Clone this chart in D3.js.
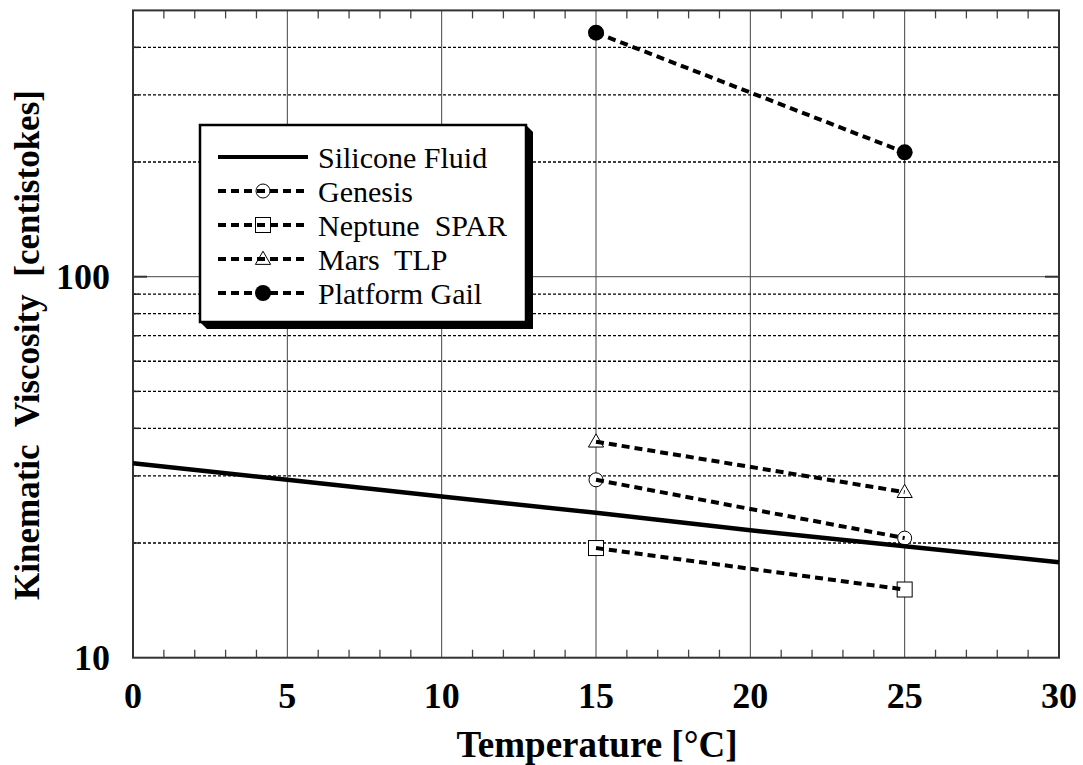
<!DOCTYPE html>
<html>
<head>
<meta charset="utf-8">
<script src="https://cdn.jsdelivr.net/npm/d3@7"></script>
<style>
  html, body { margin: 0; padding: 0; background: #fff; }
  svg { display: block; }
</style>
</head>
<body>
<svg id="chart" width="1083" height="765"></svg>
<script>
// Temperature axis
const xTicks = [0, 5, 10, 15, 20, 25, 30];
const yTickLabels = [10, 100];
const yGridDotted = [20, 30, 40, 50, 60, 70, 80, 90, 200, 300, 400];

// Silicone fluid reference curve
const siliconeTemps = [0, 5, 10, 15, 20, 25, 30];
const siliconeVisc = [32.4, 29.3, 26.5, 24.0, 21.6, 19.6, 17.8];

// Crude samples measured at 15 and 25 °C
const sampleTemps = [15, 25];
const genesisVisc = [29.3, 20.6];
const neptuneVisc = [19.4, 15.1];
const marsVisc = [36.9, 27.2];
const gailVisc = [437, 212];

const seriesNames = ["Silicone Fluid", "Genesis", "Neptune  SPAR", "Mars  TLP", "Platform Gail"];

const svg = d3.select("#chart");
const plotLeft = 133, plotRight = 1059, plotTop = 10.4, plotBottom = 657.7;

const x = d3.scaleLinear().domain([0, 30]).range([plotLeft, plotRight]);
const y = d3.scaleLog().domain([10, 500]).range([plotBottom, plotTop]);

const serif = "'Liberation Serif', 'Times New Roman', serif";

// Grid: vertical solid lines
svg.append("g").selectAll("line").data(xTicks.filter(d => d > 0 && d < 30)).join("line")
  .attr("x1", d => x(d)).attr("x2", d => x(d))
  .attr("y1", plotTop).attr("y2", plotBottom)
  .attr("stroke", "#444").attr("stroke-width", 1);

// Grid: horizontal dotted lines
svg.append("g").selectAll("line").data(yGridDotted).join("line")
  .attr("x1", plotLeft).attr("x2", plotRight)
  .attr("y1", d => y(d)).attr("y2", d => y(d))
  .attr("stroke", "#000").attr("stroke-width", 1.3)
  .attr("stroke-dasharray", "3,2");

// Grid: solid decade line
svg.append("line")
  .attr("x1", plotLeft).attr("x2", plotRight)
  .attr("y1", y(100)).attr("y2", y(100))
  .attr("stroke", "#444").attr("stroke-width", 1);

// Minor x ticks on bottom and top, pointing inward
const xMinor = d3.range(1, 30).filter(d => d % 5 !== 0);
svg.append("g").selectAll("line").data(xMinor).join("line")
  .attr("x1", d => x(d)).attr("x2", d => x(d))
  .attr("y1", plotBottom).attr("y2", plotBottom - 8)
  .attr("stroke", "#444").attr("stroke-width", 1.3);
svg.append("g").selectAll("line").data(xMinor).join("line")
  .attr("x1", d => x(d)).attr("x2", d => x(d))
  .attr("y1", plotTop).attr("y2", plotTop + 8)
  .attr("stroke", "#444").attr("stroke-width", 1.3);

// Y ticks on both sides
svg.append("g").selectAll("line").data(yGridDotted).join("line")
  .attr("x1", plotLeft).attr("x2", plotLeft + 6)
  .attr("y1", d => y(d)).attr("y2", d => y(d))
  .attr("stroke", "#222").attr("stroke-width", 1.5);
svg.append("g").selectAll("line").data(yGridDotted).join("line")
  .attr("x1", plotRight).attr("x2", plotRight - 6)
  .attr("y1", d => y(d)).attr("y2", d => y(d))
  .attr("stroke", "#222").attr("stroke-width", 1.5);
[plotLeft, plotRight].forEach(xe => {
  svg.append("line")
    .attr("x1", xe).attr("x2", xe === plotLeft ? xe + 14 : xe - 14)
    .attr("y1", y(100)).attr("y2", y(100))
    .attr("stroke", "#333").attr("stroke-width", 2);
});

// Plot frame
svg.append("rect")
  .attr("x", plotLeft).attr("y", plotTop)
  .attr("width", plotRight - plotLeft).attr("height", plotBottom - plotTop)
  .attr("fill", "none").attr("stroke", "#333").attr("stroke-width", 2);

// Axis tick labels
svg.append("g").selectAll("text").data(xTicks).join("text")
  .attr("x", d => x(d)).attr("y", 708)
  .attr("text-anchor", "middle")
  .attr("font-family", serif).attr("font-weight", "bold").attr("font-size", 36)
  .text(d => d);
svg.append("g").selectAll("text").data(yTickLabels).join("text")
  .attr("x", 110).attr("y", d => y(d) + 12)
  .attr("text-anchor", "end")
  .attr("font-family", serif).attr("font-weight", "bold").attr("font-size", 36)
  .text(d => d);

// Axis titles
svg.append("text")
  .attr("x", 597).attr("y", 757)
  .attr("text-anchor", "middle")
  .attr("font-family", serif).attr("font-weight", "bold").attr("font-size", 37)
  .text("Temperature [°C]");
svg.append("text")
  .attr("transform", "translate(39,345) rotate(-90)")
  .attr("text-anchor", "middle")
  .attr("font-family", serif).attr("font-weight", "bold").attr("font-size", 35)
  .attr("word-spacing", 9)
  .text("Kinematic Viscosity [centistokes]");

// Series
const lineGen = d3.line().x(d => x(d[0])).y(d => y(d[1]));
const dash = "8,5";

// Markers
function drawMarker(g, type, cx, cy) {
  if (type === "circle") {
    g.append("circle").attr("cx", cx).attr("cy", cy).attr("r", 7)
      .attr("fill", "#fff").attr("stroke", "#000").attr("stroke-width", 1);
  } else if (type === "square") {
    g.append("rect").attr("x", cx - 7.5).attr("y", cy - 7.5).attr("width", 15).attr("height", 15)
      .attr("fill", "#fff").attr("stroke", "#000").attr("stroke-width", 1);
  } else if (type === "triangle") {
    g.append("path").attr("d", d3.symbol().type(d3.symbolTriangle).size(100)())
      .attr("transform", `translate(${cx},${cy + 1})`)
      .attr("fill", "#fff").attr("stroke", "#000").attr("stroke-width", 1);
  } else if (type === "filled") {
    g.append("circle").attr("cx", cx).attr("cy", cy).attr("r", 8)
      .attr("fill", "#000");
  }
}

const samples = [
  { vals: genesisVisc, marker: "circle" },
  { vals: neptuneVisc, marker: "square" },
  { vals: marsVisc, marker: "triangle" },
  { vals: gailVisc, marker: "filled" }
];

const markG = svg.append("g");
samples.forEach(s => {
  sampleTemps.forEach((t, i) => drawMarker(markG, s.marker, x(t), y(s.vals[i])));
});

svg.append("path")
  .datum(siliconeTemps.map((t, i) => [t, siliconeVisc[i]]))
  .attr("d", lineGen)
  .attr("fill", "none").attr("stroke", "#000").attr("stroke-width", 4.5);

samples.forEach(s => {
  svg.append("path")
    .datum(sampleTemps.map((t, i) => [t, s.vals[i]]))
    .attr("d", lineGen)
    .attr("fill", "none").attr("stroke", "#000").attr("stroke-width", 4)
    .attr("stroke-dasharray", dash);
});

// Legend with drop shadow
const lg = svg.append("g");
const lx = 200, ly = 125, lw = 326, lh = 197, sh = 7;
lg.append("path")
  .attr("d", `M${lx + lw},${ly} L${lx + lw + sh},${ly + sh} L${lx + lw + sh},${ly + lh + sh} L${lx + sh},${ly + lh + sh} L${lx},${ly + lh} Z`)
  .attr("fill", "#000");
lg.append("rect")
  .attr("x", lx).attr("y", ly).attr("width", lw).attr("height", lh)
  .attr("fill", "#fff").attr("stroke", "#000").attr("stroke-width", 2.5);

const legendMarkers = [null, "circle", "square", "triangle", "filled"];
seriesNames.forEach((name, i) => {
  const ry = 157 + i * 34;
  if (legendMarkers[i]) drawMarker(lg, legendMarkers[i], 263, ry);
  lg.append("line")
    .attr("x1", 218).attr("x2", 308).attr("y1", ry).attr("y2", ry)
    .attr("stroke", "#000").attr("stroke-width", 4)
    .attr("stroke-dasharray", i === 0 ? null : dash);
  lg.append("text")
    .attr("x", 318).attr("y", ry + 11)
    .attr("font-family", serif).attr("font-size", 30)
    .style("white-space", "pre")
    .text(name);
});
</script>
</body>
</html>
